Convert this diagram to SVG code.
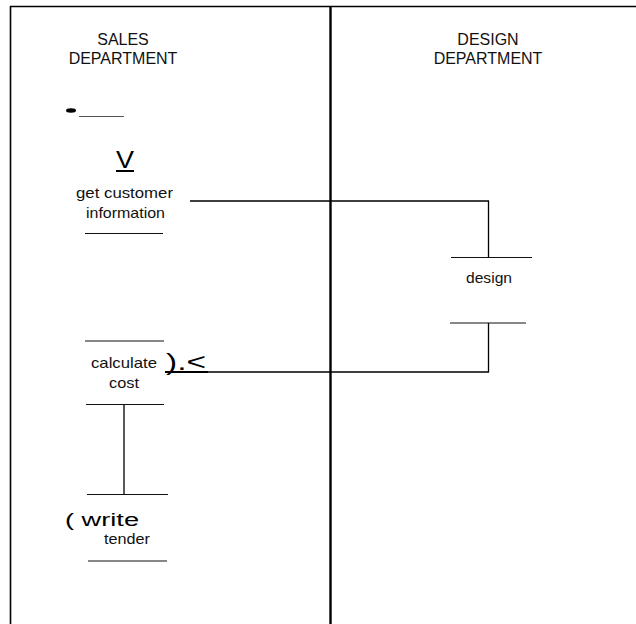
<svg xmlns="http://www.w3.org/2000/svg" width="636" height="624" viewBox="0 0 636 624">
  <style>
    .frame { stroke: #000; stroke-width: 1.6; fill: none; }
    .lane { stroke: #000; stroke-width: 2.4; fill: none; }
    .bar { stroke: #111; stroke-width: 1.2; fill: none; }
    .wire { stroke: #000; stroke-width: 1.3; fill: none; }
    .hdr { font-family: "Liberation Sans", Arial, sans-serif; font-size: 16px; fill: #111; text-anchor: middle; }
    .lbl { font-family: "Liberation Sans", Arial, sans-serif; font-size: 14.5px; fill: #111; text-anchor: middle; }
    .mark { font-family: "Liberation Sans", Arial, sans-serif; fill: #000; }
  </style>
  <rect width="636" height="624" fill="#fff"/>

  <!-- swimlane frame -->
  <g id="lanes">
    <line class="frame" x1="10" y1="6.5" x2="636" y2="6.5"/>
    <line class="frame" x1="10.5" y1="6" x2="10.5" y2="624"/>
    <line class="lane" x1="330.5" y1="6" x2="330.5" y2="624"/>
    <text class="hdr" x="123" y="45">SALES</text>
    <text class="hdr" x="123" y="64">DEPARTMENT</text>
    <text class="hdr" x="488" y="45">DESIGN</text>
    <text class="hdr" x="488" y="64">DEPARTMENT</text>
  </g>

  <!-- start marker -->
  <g id="start">
    <ellipse cx="71" cy="110.5" rx="5" ry="2.2" fill="#000"/>
    <line x1="79" y1="116.5" x2="124" y2="116.5" stroke="#555" stroke-width="1.1"/>
    <text class="mark" x="125" y="168" font-size="23" text-anchor="middle" textLength="18" lengthAdjust="spacingAndGlyphs">V</text>
    <line x1="116" y1="171" x2="134" y2="171" stroke="#000" stroke-width="2"/>
  </g>

  <g id="get-customer-information">
    <text class="lbl" x="124.5" y="198" textLength="97" lengthAdjust="spacingAndGlyphs">get customer</text>
    <text class="lbl" x="125.5" y="218" textLength="79" lengthAdjust="spacingAndGlyphs">information</text>
    <line class="bar" x1="85" y1="233.5" x2="163" y2="233.5"/>
  </g>

  <g id="design">
    <line class="bar" x1="451" y1="257.5" x2="532" y2="257.5"/>
    <text class="lbl" x="489" y="283" textLength="46" lengthAdjust="spacingAndGlyphs">design</text>
    <line class="bar" x1="450" y1="323" x2="526" y2="323"/>
  </g>

  <g id="calculate-cost">
    <line class="bar" x1="85" y1="341" x2="164" y2="341"/>
    <text class="lbl" x="124" y="368" textLength="66" lengthAdjust="spacingAndGlyphs">calculate</text>
    <text class="lbl" x="124" y="388" textLength="30" lengthAdjust="spacingAndGlyphs">cost</text>
    <line class="bar" x1="86" y1="404.5" x2="164" y2="404.5"/>
    <text class="mark" x="166" y="370" font-size="24" textLength="40" lengthAdjust="spacingAndGlyphs">).&lt;</text>
    <line x1="165" y1="372" x2="208" y2="372" stroke="#000" stroke-width="2"/>
  </g>

  <g id="write-tender">
    <line class="bar" x1="87" y1="494.5" x2="168" y2="494.5"/>
    <text class="mark" x="65" y="526" font-size="18" textLength="74" lengthAdjust="spacingAndGlyphs">( write</text>
    <text class="lbl" x="127" y="544" textLength="46" lengthAdjust="spacingAndGlyphs">tender</text>
    <line class="bar" x1="88" y1="561" x2="167" y2="561"/>
  </g>

  <!-- connectors -->
  <g id="connectors">
    <polyline class="wire" points="190,201 488.5,201 488.5,257"/>
    <polyline class="wire" points="488.5,323 488.5,372 208,372"/>
    <line class="wire" x1="124" y1="404.5" x2="124" y2="494.5"/>
  </g>
</svg>
